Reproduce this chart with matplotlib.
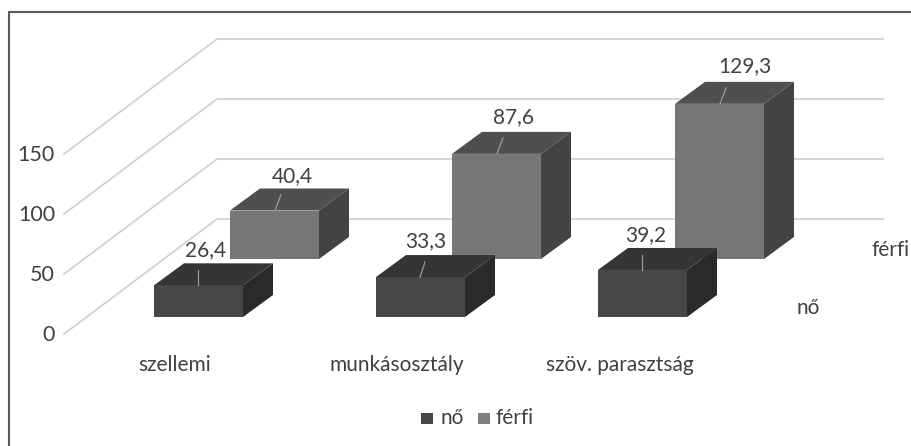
import matplotlib
matplotlib.use("Agg")
import matplotlib.pyplot as plt
from matplotlib.patches import Polygon, Rectangle

plt.rcParams["font.family"] = ["Lato", "DejaVu Sans"]

# adatok
categories = ["szellemi", "munkásosztály", "szöv. parasztság"]
no_values = [26.4, 33.3, 39.2]
ferfi_values = [40.4, 87.6, 129.3]
y_ticks = [0, 50, 100, 150]
series_names = ["nő", "férfi"]

W, H = 911, 446
PX_PER_UNIT = 1.2
DX, DY = 30, 22   # 3D depth of one box
TEXT = "#404040"

fig = plt.figure(figsize=(W / 100, H / 100), dpi=100)
ax = fig.add_axes([0, 0, 1, 1])
ax.set_xlim(0, W)
ax.set_ylim(H, 0)
ax.axis("off")

# frame: only left and top are visible, cropped at the image edge
ax.plot([9, 9, W], [H, 12, 12], color="#5a5a5a", lw=1.5, zorder=1)


def box(x, base, value, width, front, top, side, z):
    y = base - value * PX_PER_UNIT
    r = x + width
    ax.add_patch(Polygon([(x, y), (r, y), (r, base), (x, base)], fc=front, ec="none", zorder=z))
    ax.add_patch(Polygon([(x, y), (x + DX, y - DY), (r + DX, y - DY), (r, y)], fc=top, ec="none", zorder=z))
    ax.add_patch(Polygon([(r, y), (r + DX, y - DY), (r + DX, base - DY), (r, base)], fc=side, ec="none", zorder=z))
    return y


# walls / gridlines
for t in y_ticks:
    back_y = 219 - t * PX_PER_UNIT
    front_y = 334 - t * PX_PER_UNIT
    ax.plot([64, 217, 883], [front_y, back_y, back_y], color="#d2d2d2", lw=1.3, zorder=1)
    ax.text(55, front_y + 1, str(t), ha="right", va="center", fontsize=15.5, color=TEXT, zorder=5)

# back row: férfi
for x, v, lx, ly in zip([230, 452, 675], ferfi_values, [62, 61, 70], [34, 37, 38]):
    y = box(x, 259, v, 89, "#767676", "#4f4f4f", "#434343", 2)
    cx = x + 45
    ax.plot([cx, cx + 6], [y, y - 16], color="#9a9a9a", lw=0.9, zorder=3)
    ax.text(x + lx, y - ly, f"{v:.1f}".replace(".", ","), ha="center", va="center",
            fontsize=15, color=TEXT, zorder=5)

# front row: nő
for x, v, lx, ly in zip([154, 376, 598], no_values, [52, 50, 48], [35, 36, 35]):
    y = box(x, 317, v, 89, "#474747", "#353535", "#2a2a2a", 4)
    cx = x + 44
    ax.plot([cx, cx + (5 if v == 33.3 else 0)], [y, y - 15], color="#9a9a9a", lw=0.9, zorder=5)
    ax.text(x + lx, y - ly, f"{v:.1f}".replace(".", ","), ha="center", va="center",
            fontsize=15, color=TEXT, zorder=3.5)

# category labels
for x, c in zip([175, 397, 620], categories):
    ax.text(x, 365, c, ha="center", va="center", fontsize=15, color=TEXT)

# depth axis labels
ax.text(808, 308, series_names[0], ha="center", va="center", fontsize=15, color=TEXT)
ax.text(890, 250, series_names[1], ha="center", va="center", fontsize=15, color=TEXT)

# legend
ax.add_patch(Rectangle((421, 413), 12, 11, fc="#474747", ec="none"))
ax.text(440, 418, series_names[0], ha="left", va="center", fontsize=15, color=TEXT)
ax.add_patch(Rectangle((478, 413), 12, 11, fc="#808080", ec="none"))
ax.text(496, 418, series_names[1], ha="left", va="center", fontsize=15, color=TEXT)

fig.savefig("out.png", dpi=100)
